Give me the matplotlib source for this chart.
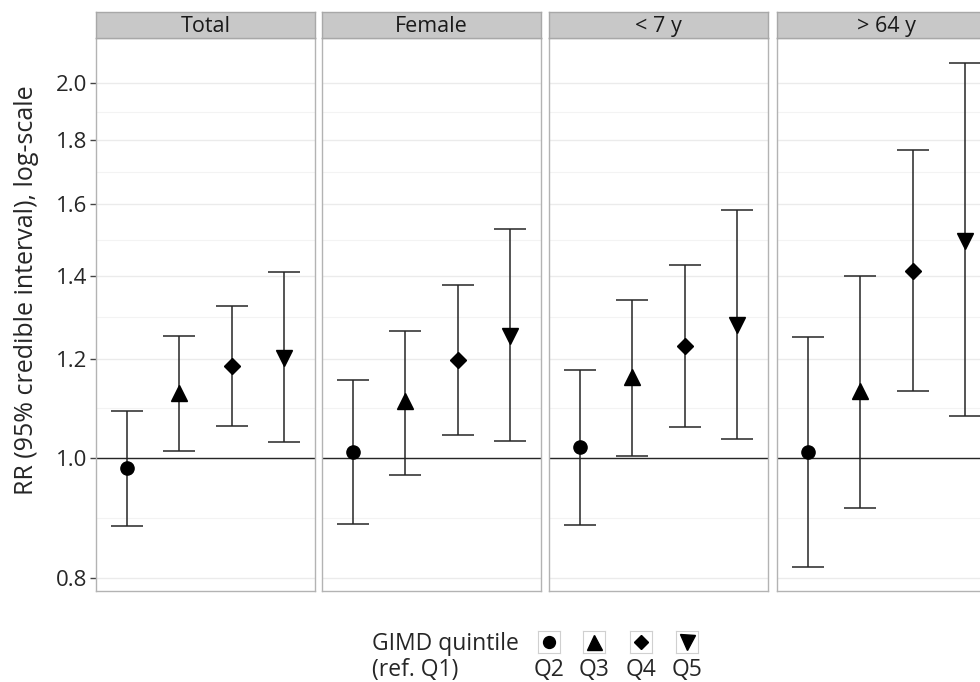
#!/usr/bin/env python3
# plot.py - faceted RR forest-style chart (log-scale) by GIMD quintile
import numpy as np
import matplotlib
matplotlib.use("Agg")
import matplotlib.pyplot as plt

plt.rcParams["font.family"] = ["Open Sans", "DejaVu Sans"]

# --- data -------------------------------------------------------------
panels = ["Total", "Female", "< 7 y", "> 64 y"]
quintiles = ["Q2", "Q3", "Q4", "Q5"]
markers = ["o", "^", "D", "v"]
msizes = [9.5, 12, 8, 12]

# RR point estimates, one row per panel, one column per quintile
rr = [
    [0.980, 1.126, 1.185, 1.202],
    [1.011, 1.111, 1.198, 1.252],
    [1.019, 1.161, 1.230, 1.278],
    [1.011, 1.131, 1.413, 1.494],
]
# lower / upper 95% credible limits
lo = [
    [0.881, 1.012, 1.061, 1.030],
    [0.885, 0.969, 1.043, 1.032],
    [0.883, 1.003, 1.058, 1.034],
    [0.817, 0.910, 1.131, 1.079],
]
hi = [
    [1.090, 1.252, 1.324, 1.410],
    [1.154, 1.265, 1.376, 1.527],
    [1.176, 1.339, 1.429, 1.581],
    [1.251, 1.400, 1.767, 2.076],
]
yticks = [0.8, 1.0, 1.2, 1.4, 1.6, 1.8, 2.0]
ylim = (0.781, 2.175)

# --- layout (pixels of a 980x682 canvas) ------------------------------
W, H = 980, 682
fig = plt.figure(figsize=(W / 100, H / 100), dpi=100)

def box(x0, y0, w, h):
    return [x0 / W, 1 - (y0 + h) / H, w / W, h / H]

lefts = [96, 322, 549, 777]
pw, ptop, pbot = 219, 38, 591
strip_h = 26
grid_major = "#EBEBEB"
edge = "#B3B3B3"
ink = "#262626"

minor = [np.sqrt(a * b) for a, b in zip(yticks[:-1], yticks[1:])]
xpos = np.arange(1, len(quintiles) + 1)

for i, name in enumerate(panels):
    ax = fig.add_axes(box(lefts[i], ptop, pw, pbot - ptop))
    ax.set_yscale("log")
    ax.set_xlim(0.4, 4.6)
    ax.set_ylim(*ylim)
    for y in yticks:
        ax.axhline(y, color=grid_major, lw=1.0, zorder=0)
    for y in minor:
        ax.axhline(y, color="#F3F3F3", lw=0.8, zorder=0)
    ax.axhline(1.0, color=ink, lw=1.0, zorder=1)

    for j in range(len(quintiles)):
        y = rr[i][j]
        ax.errorbar(xpos[j], y, yerr=[[y - lo[i][j]], [hi[i][j] - y]],
                    fmt="none", ecolor=ink, elinewidth=1.1, capsize=11.2,
                    capthick=1.1, zorder=2)
        ax.plot(xpos[j], y, marker=markers[j], ms=msizes[j], color="black",
                mec="black", ls="none", zorder=3)

    ax.set_xticks([])
    ax.set_yticks(yticks)
    ax.yaxis.set_minor_locator(matplotlib.ticker.NullLocator())
    if i == 0:
        ax.set_yticklabels([f"{t:.1f}" for t in yticks])
        ax.tick_params(axis="y", length=4.5, width=1, color="#444444",
                       labelsize=16, labelcolor=ink, pad=2)
    else:
        ax.set_yticklabels([])
        ax.tick_params(axis="y", length=0)
    for s in ax.spines.values():
        s.set_color(edge)
        s.set_linewidth(1.0)

    st = fig.add_axes(box(lefts[i], ptop - strip_h, pw, strip_h))
    st.set_facecolor("#C8C8C8")
    st.set_xticks([])
    st.set_yticks([])
    for s in st.spines.values():
        s.set_color("#A8A8A8")
        s.set_linewidth(1.0)
    st.text(0.5, 0.45, name, ha="center", va="center", fontsize=15.5,
            color="#1A1A1A", transform=st.transAxes)

fig.text(27 / W, 1 - 290 / H, "RR (95% credible interval), log-scale",
         rotation=90, ha="center", va="center", fontsize=18, color=ink)

# --- legend -----------------------------------------------------------
fig.text(372 / W, 1 - 644 / H, "GIMD quintile", ha="left", va="center",
         fontsize=16.5, color=ink)
fig.text(372 / W, 1 - 670 / H, "(ref. Q1)", ha="left", va="center",
         fontsize=16.5, color=ink)
key_x = [549, 594, 641, 687]
for j, q in enumerate(quintiles):
    k = fig.add_axes(box(key_x[j] - 11, 631, 22, 22))
    k.plot(0, 0, marker=markers[j], ms=msizes[j] * 0.9, color="black", ls="none")
    k.set_xlim(-1, 1)
    k.set_ylim(-1, 1)
    k.set_xticks([])
    k.set_yticks([])
    for s in k.spines.values():
        s.set_color("#D0D0D0")
        s.set_linewidth(0.8)
    fig.text(key_x[j] / W, 1 - 670 / H, q, ha="center", va="center",
             fontsize=16.5, color=ink)

fig.savefig("out.png", dpi=100)
